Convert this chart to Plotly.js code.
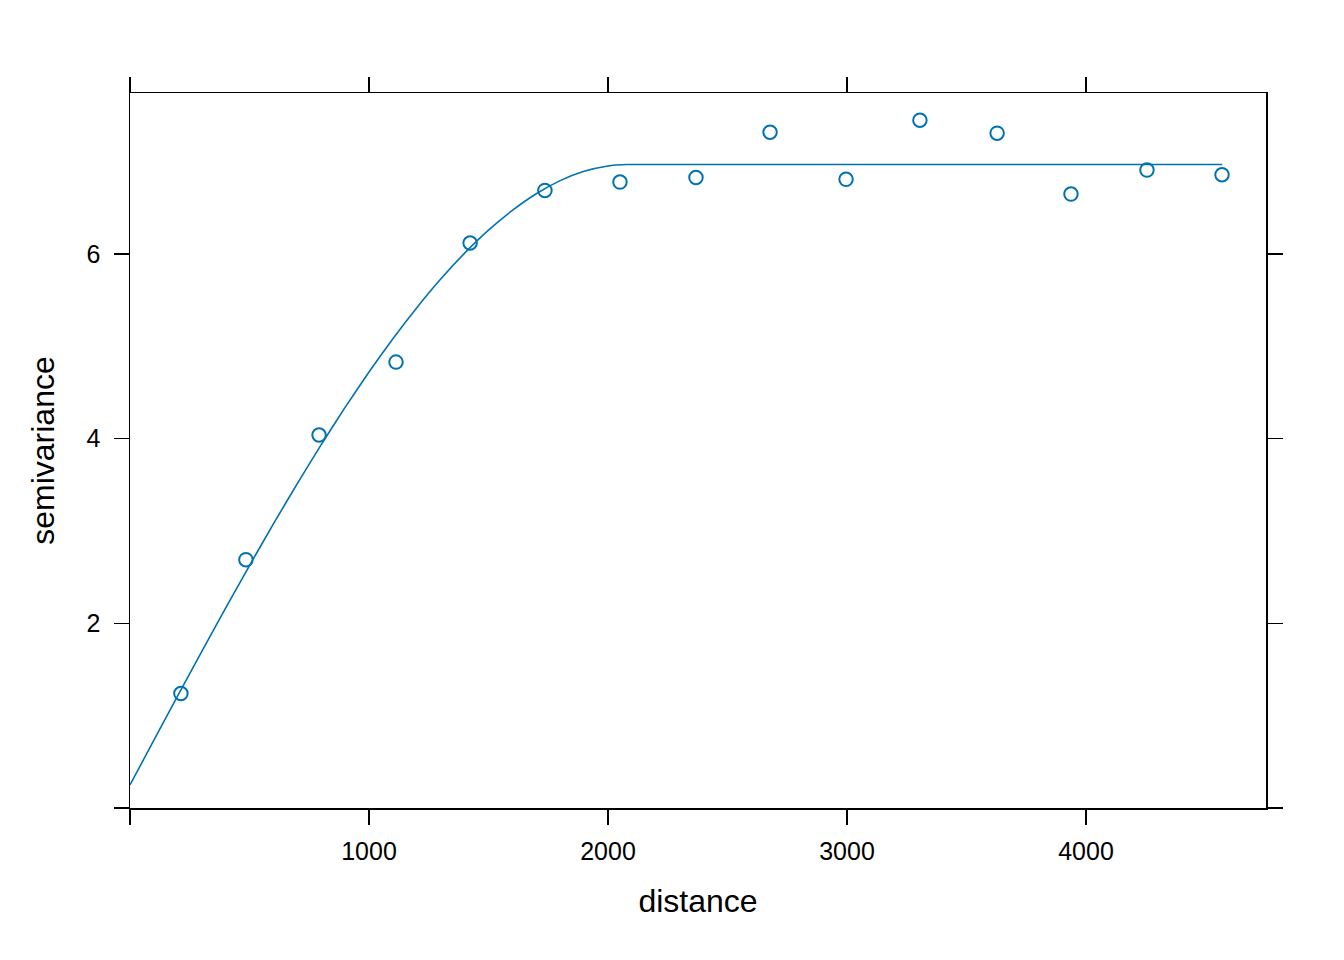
<!DOCTYPE html>
<html>
<head>
<meta charset="utf-8">
<script src="https://cdn.plot.ly/plotly-3.0.1.min.js"></script>
<style>html,body{margin:0;padding:0;background:#fff;}#chart{width:1344px;height:960px;}</style>
</head>
<body>
<div id="chart"></div>
<script>
// empirical semivariogram points
const distance = [213, 485, 791, 1113, 1423, 1736, 2050, 2368, 2678, 2996, 3305, 3628, 3937, 4255, 4569];
const semivariance = [1.24, 2.69, 4.04, 4.83, 6.12, 6.69, 6.78, 6.83, 7.32, 6.81, 7.45, 7.31, 6.65, 6.91, 6.86];

// fitted model line
const modelX = [0, 100, 200, 300, 400, 500, 600, 700, 800, 900, 1000, 1100, 1200, 1300, 1400, 1500, 1600, 1700, 1800, 1900, 2000, 2080, 4570];
const modelY = [0.25, 0.734, 1.216, 1.694, 2.165, 2.626, 3.077, 3.514, 3.936, 4.339, 4.723, 5.084, 5.420, 5.730, 6.010, 6.259, 6.474, 6.654, 6.796, 6.897, 6.955, 6.97, 6.97];

const xTicks = [0, 1000, 2000, 3000, 4000];
const xTickText = ['', '1000', '2000', '3000', '4000'];
const yTicks = [0, 2, 4, 6];
const yTickText = ['', '2', '4', '6'];

const col = '#0072B2';
const font = 'Liberation Sans, Arial, Helvetica, sans-serif';

const traces = [
  {x: modelX, y: modelY, type: 'scatter', mode: 'lines', line: {color: col, width: 1.6, shape: 'spline', smoothing: 0.5}, hoverinfo: 'skip'},
  {x: distance, y: semivariance, type: 'scatter', mode: 'markers',
   marker: {symbol: 'circle-open', size: 13.5, color: col, line: {color: col, width: 2}}}
];

const layout = {
  width: 1344, height: 960,
  margin: {l: 130, r: 78, t: 93, b: 152},
  paper_bgcolor: '#fff', plot_bgcolor: '#fff',
  showlegend: false,
  font: {family: font, color: '#000'},
  xaxis: {
    range: [0, 4753], tickvals: xTicks, ticktext: xTickText,
    ticks: 'outside', ticklen: 15, tickwidth: 1.5, tickcolor: '#000',
    showline: true, linewidth: 1.5, linecolor: '#000', mirror: 'ticks',
    showgrid: false, zeroline: false, ticklabelstandoff: 5,
    tickfont: {size: 25, family: font},
    title: {text: 'distance', font: {size: 32, family: font}, standoff: 26}
  },
  yaxis: {
    range: [0, 7.745], tickvals: yTicks, ticktext: yTickText,
    ticks: 'outside', ticklen: 15, tickwidth: 1.5, tickcolor: '#000',
    showline: true, linewidth: 1.5, linecolor: '#000', mirror: 'ticks',
    showgrid: false, zeroline: false, ticklabelstandoff: 8,
    tickfont: {size: 25, family: font},
    title: {text: 'semivariance', font: {size: 32, family: font}, standoff: 22}
  }
};

Plotly.newPlot('chart', traces, layout, {displayModeBar: false, staticPlot: true});
</script>
</body>
</html>
